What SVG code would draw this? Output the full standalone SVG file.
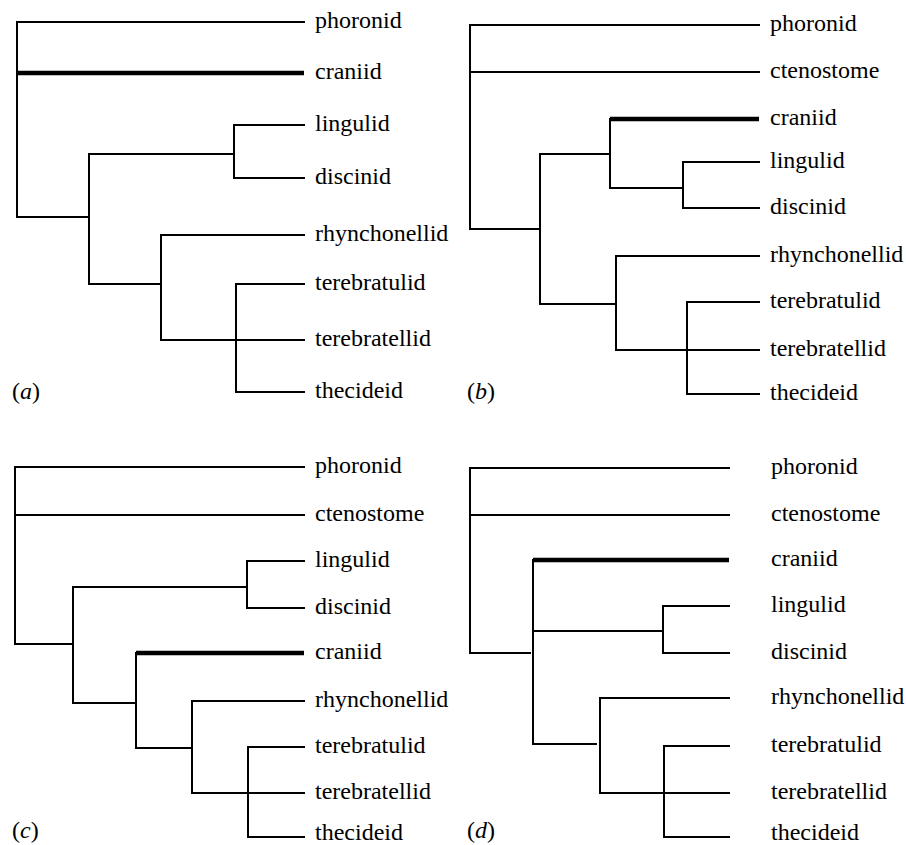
<svg xmlns="http://www.w3.org/2000/svg" width="906" height="845" viewBox="0 0 906 845">
<style>
.e{fill:none;stroke:#000;stroke-width:2;stroke-linecap:square}
.t{fill:none;stroke:#000;stroke-width:4.5}
.i{font-style:italic}
</style>
<rect width="906" height="845" fill="#fff"/>
<g id="connectors">
<g id="edges-a">
<path class="e" d="M304,22 H17 V217 H89"/>
<path class="t" d="M17,73 H304"/>
<path class="e" d="M89,154 H234"/>
<path class="e" d="M304,125 H234 V178 H304"/>
<path class="e" d="M89,154 V284 H161"/>
<path class="e" d="M304,235 H161 V340 H304"/>
<path class="e" d="M304,284 H236 V392 H304"/>
</g>
<g id="edges-b">
<path class="e" d="M759,25 H470 V229 H540"/>
<path class="e" d="M470,72 H759"/>
<path class="e" d="M540,154 H610"/>
<path class="e" d="M540,154 V304 H616"/>
<path class="e" d="M610,119 V188 H683"/>
<path class="t" d="M610,119 H759"/>
<path class="e" d="M759,162 H683 V208 H759"/>
<path class="e" d="M759,256 H616 V350 H759"/>
<path class="e" d="M759,302 H687 V394 H759"/>
</g>
<g id="edges-c">
<path class="e" d="M304,467 H15 V644 H73"/>
<path class="e" d="M15,515 H304"/>
<path class="e" d="M73,587 H247"/>
<path class="e" d="M73,587 V703 H136"/>
<path class="e" d="M304,561 H247 V608 H304"/>
<path class="e" d="M136,653 V748 H192"/>
<path class="t" d="M136,653 H304"/>
<path class="e" d="M304,701 H192 V793 H304"/>
<path class="e" d="M304,747 H248 V837 H304"/>
</g>
<g id="edges-d">
<path class="e" d="M729,468 H470 V653 H530"/>
<path class="e" d="M470,515 H729"/>
<path class="e" d="M533,560 V744 H596"/>
<path class="t" d="M533,560 H729"/>
<path class="e" d="M533,631 H663"/>
<path class="e" d="M729,606 H663 V653 H729"/>
<path class="e" d="M729,698 H600 V793 H729"/>
<path class="e" d="M729,746 H664 V837 H729"/>
</g>
</g>
<g font-family="'Liberation Serif', 'Times New Roman', 'DejaVu Serif', serif" font-size="24" fill="#000">
<g id="panel-a">
<g id="a-phoronid"><text x="315" y="28">phoronid</text></g>
<g id="a-craniid"><text x="315" y="79">craniid</text></g>
<g id="a-lingulid"><text x="315" y="131">lingulid</text></g>
<g id="a-discinid"><text x="315" y="184">discinid</text></g>
<g id="a-rhynchonellid"><text x="315" y="241">rhynchonellid</text></g>
<g id="a-terebratulid"><text x="315" y="290">terebratulid</text></g>
<g id="a-terebratellid"><text x="315" y="346">terebratellid</text></g>
<g id="a-thecideid"><text x="315" y="398">thecideid</text></g>
<g id="a-label"><text x="12" y="399">(<tspan class="i">a</tspan>)</text></g>
</g>
<g id="panel-b">
<g id="b-phoronid"><text x="770" y="31">phoronid</text></g>
<g id="b-ctenostome"><text x="770" y="78">ctenostome</text></g>
<g id="b-craniid"><text x="770" y="125">craniid</text></g>
<g id="b-lingulid"><text x="770" y="168">lingulid</text></g>
<g id="b-discinid"><text x="770" y="214">discinid</text></g>
<g id="b-rhynchonellid"><text x="770" y="262">rhynchonellid</text></g>
<g id="b-terebratulid"><text x="770" y="308">terebratulid</text></g>
<g id="b-terebratellid"><text x="770" y="356">terebratellid</text></g>
<g id="b-thecideid"><text x="770" y="400">thecideid</text></g>
<g id="b-label"><text x="467" y="399">(<tspan class="i">b</tspan>)</text></g>
</g>
<g id="panel-c">
<g id="c-phoronid"><text x="315" y="473">phoronid</text></g>
<g id="c-ctenostome"><text x="315" y="521">ctenostome</text></g>
<g id="c-lingulid"><text x="315" y="567">lingulid</text></g>
<g id="c-discinid"><text x="315" y="614">discinid</text></g>
<g id="c-craniid"><text x="315" y="659">craniid</text></g>
<g id="c-rhynchonellid"><text x="315" y="707">rhynchonellid</text></g>
<g id="c-terebratulid"><text x="315" y="753">terebratulid</text></g>
<g id="c-terebratellid"><text x="315" y="799">terebratellid</text></g>
<g id="c-thecideid"><text x="315" y="840">thecideid</text></g>
<g id="c-label"><text x="12" y="838">(<tspan class="i">c</tspan>)</text></g>
</g>
<g id="panel-d">
<g id="d-phoronid"><text x="771" y="474">phoronid</text></g>
<g id="d-ctenostome"><text x="771" y="521">ctenostome</text></g>
<g id="d-craniid"><text x="771" y="566">craniid</text></g>
<g id="d-lingulid"><text x="771" y="612">lingulid</text></g>
<g id="d-discinid"><text x="771" y="659">discinid</text></g>
<g id="d-rhynchonellid"><text x="771" y="704">rhynchonellid</text></g>
<g id="d-terebratulid"><text x="771" y="752">terebratulid</text></g>
<g id="d-terebratellid"><text x="771" y="799">terebratellid</text></g>
<g id="d-thecideid"><text x="771" y="840">thecideid</text></g>
<g id="d-label"><text x="467" y="838">(<tspan class="i">d</tspan>)</text></g>
</g>
</g>
</svg>
